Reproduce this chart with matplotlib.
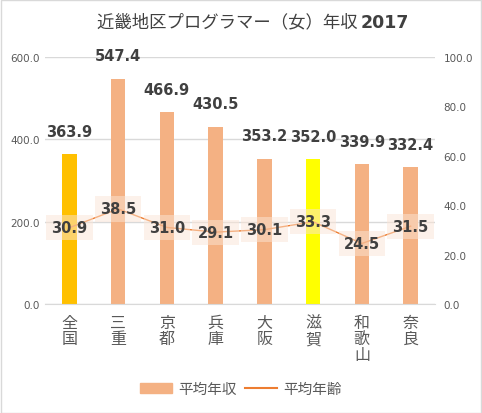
import numpy as np
import matplotlib
matplotlib.use("Agg")
from matplotlib import pyplot as plt
from matplotlib.patches import Rectangle
from matplotlib.lines import Line2D

plt.rcParams['font.family'] = ['Noto Sans CJK JP', 'DejaVu Sans']

regions = ['全国', '三重', '京都', '兵庫', '大阪', '滋賀', '和歌山', '奈良']
income = [363.9, 547.4, 466.9, 430.5, 353.2, 352.0, 339.9, 332.4]
age = [30.9, 38.5, 31.0, 29.1, 30.1, 33.3, 24.5, 31.5]
bar_colors = ['#FFC000', '#F4B183', '#F4B183', '#F4B183', '#F4B183',
              '#FFFF00', '#F4B183', '#F4B183']

W, H = 482, 414
fig = plt.figure(figsize=(W / 100, H / 100), dpi=100)
fig.patches.append(Rectangle((0.5 / W, 0.5 / H), 1 - 1.5 / W, 1 - 1.5 / H,
                             transform=fig.transFigure, fill=False,
                             edgecolor='#D9D9D9', lw=1))

ax = fig.add_axes([45 / W, (H - 305) / H, 390 / W, 247 / H])
x = np.arange(len(regions))
ax.bar(x, income, width=0.3, color=bar_colors, zorder=2)
ax.set_xlim(-0.5, len(regions) - 0.5)
ax.set_ylim(0, 600)
ax.set_yticks([0, 200, 400, 600])
ax.set_yticklabels(['%.1f' % v for v in [0, 200, 400, 600]],
                   family='DejaVu Sans', fontsize=7.5, color='#595959')
ax.grid(axis='y', color='#D9D9D9', lw=1, zorder=0)
for s in ['top', 'left', 'right']:
    ax.spines[s].set_visible(False)
ax.spines['bottom'].set_color('#D9D9D9')
ax.tick_params(axis='both', length=0)
ax.set_xticks(x)
ax.set_xticklabels(['\n'.join(r) for r in regions], fontsize=11.5,
                   color='#595959', linespacing=0.95, va='top')
ax.tick_params(axis='x', pad=7)

for xi, v in zip(x, income):
    ax.annotate('%.1f' % v, (xi, v), xytext=(0, 11), textcoords='offset points',
                ha='center', va='bottom', family='DejaVu Sans',
                fontweight='bold', fontsize=10.5, color='#404040')

ax2 = ax.twinx()
ax2.plot(x, age, color='#ED7D31', lw=1, zorder=3)
ax2.set_ylim(0, 100)
ax2.set_yticks([0, 20, 40, 60, 80, 100])
ax2.set_yticklabels(['%.1f' % v for v in [0, 20, 40, 60, 80, 100]],
                    family='DejaVu Sans', fontsize=7.5, color='#595959')
for s in ['top', 'left', 'right', 'bottom']:
    ax2.spines[s].set_visible(False)
ax2.tick_params(axis='y', length=0, pad=6)

for xi, v in zip(x, age):
    ax2.text(xi, v, '%.1f' % v, ha='center', va='center',
             family='DejaVu Sans', fontweight='bold', fontsize=10.5,
             color='#404040', zorder=4,
             bbox=dict(boxstyle='square,pad=0.35', fc='#FBE5D6', ec='none',
                       alpha=0.5))

# title: japanese part regular, year bold
t1 = fig.text(0, 0.945, '近畿地区プログラマー（女）年収 ', ha='left',
              va='center', fontsize=12.5, color='#404040')
t2 = fig.text(0, 0.945, '2017', ha='left', va='center', fontsize=12.5,
              fontweight='bold', family='DejaVu Sans', color='#404040')
r = fig.canvas.get_renderer()
w1 = t1.get_window_extent(r).width
w2 = t2.get_window_extent(r).width
x0 = (253 - (w1 + w2) / 2) / W
t1.set_x(x0)
t2.set_x(x0 + w1 / W)

handles = [Rectangle((0, 0), 1, 1, color='#F4B183'),
           Line2D([0], [0], color='#ED7D31', lw=1.5)]
fig.legend(handles, ['平均年収', '平均年齢'], loc='center',
           bbox_to_anchor=(0.5, (H - 390) / H), ncol=2, frameon=False,
           fontsize=10.5, labelcolor='#595959', handlelength=2.2,
           handletextpad=0.4, columnspacing=0.6)

fig.savefig('out.png', dpi=100)
